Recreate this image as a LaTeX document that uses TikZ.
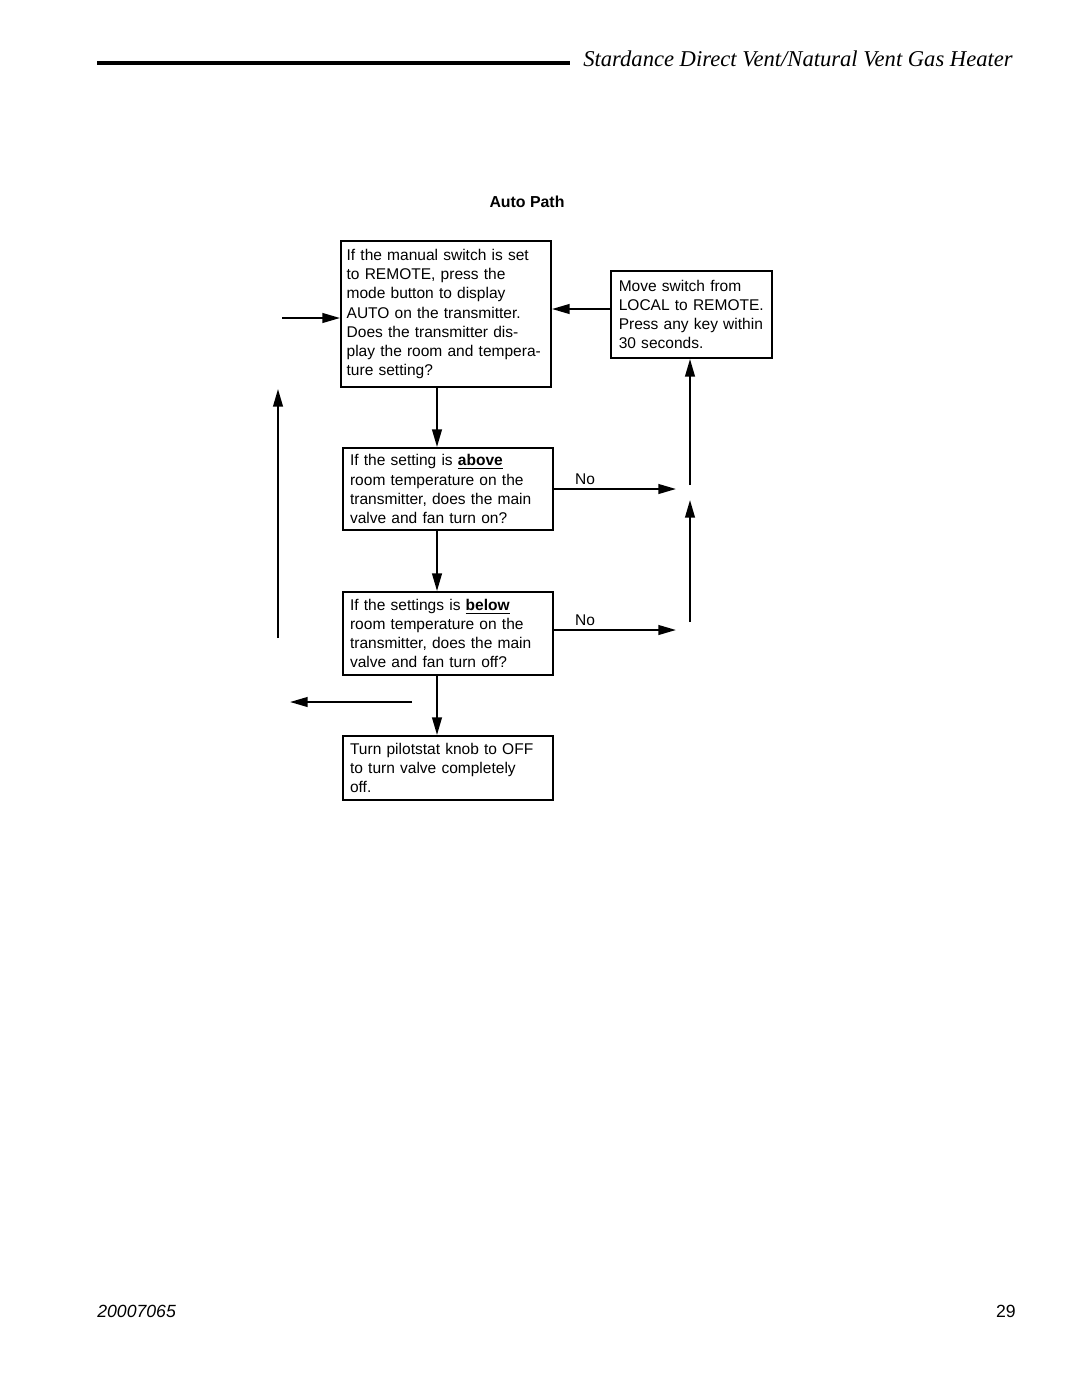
\documentclass[tikz,border=0pt]{standalone}
\usepackage{fontspec}
\setmainfont{Liberation Sans}
\newfontfamily\headfont{Liberation Serif}
\usetikzlibrary{arrows.meta}

\begin{document}
\begin{tikzpicture}[x=0.5667pt,y=-0.5667pt,
	flowbox/.style={draw,line width=1.1pt,align=left,inner xsep=3.2pt,inner ysep=2pt,
		font=\fontsize{8.8pt}{10.8pt}\selectfont},
	arr/.style={line width=1.1pt,-{Triangle[length=10pt,width=5.5pt]}},
	lbl/.style={font=\fontsize{8.8pt}{10.8pt}\selectfont}]
	\useasboundingbox (0,0) rectangle (1080,1397);

	% header and footer
	\draw[line width=2.3pt] (97,63) -- (570,63);
	\node[anchor=base east,inner sep=0pt,font=\headfont\itshape\fontsize{12.8pt}{14pt}\selectfont] (title) at (1013,66) {Stardance Direct Vent/Natural Vent Gas Heater};
	\node[anchor=base west,inner sep=0pt,font=\itshape\fontsize{10pt}{12pt}\selectfont] (partno) at (97,1317) {20007065};
	\node[anchor=base east,inner sep=0pt,font=\fontsize{10pt}{12pt}\selectfont] (page) at (1016,1317) {29};

	\node[lbl,font=\bfseries\fontsize{9pt}{10.8pt}\selectfont] (heading) at (527,202) {Auto Path};

	% boxes
	\node[flowbox,text width=112.6pt,minimum height=82.7pt] (remote) at (446,314) {If the manual switch is set\\to REMOTE, press the\\mode button to display\\AUTO on the transmitter.\\Does the transmitter dis-\\play the room and tempera-\\ture setting?};
	\node[flowbox,inner xsep=4.4pt,text width=82.4pt,minimum height=49.3pt] (local) at (691.5,314.5) {Move switch from\\LOCAL to REMOTE.\\Press any key within\\30 seconds.};
	\node[flowbox,inner xsep=4pt,text width=111pt,minimum height=46.5pt] (above) at (448,489) {If the setting is \underline{\textbf{above}}\\room temperature on the\\transmitter, does the main\\valve and fan turn on?};
	\node[flowbox,inner xsep=4pt,text width=111pt,minimum height=47pt] (below) at (448,633.5) {If the settings is \underline{\textbf{below}}\\room temperature on the\\transmitter, does the main\\valve and fan turn off?};
	\node[flowbox,inner xsep=4pt,text width=111pt,minimum height=36.3pt] (off) at (448,768) {Turn pilotstat knob to OFF\\to turn valve completely\\off.};

	% free ends
	\coordinate (spine) at (437,0);
	\coordinate (inR) at (282,318);
	\coordinate (back) at (611,309);
	\coordinate (noA) at (676,489);
	\coordinate (noB) at (676,630);
	\coordinate (upA) at (690,622);
	\coordinate (upAtip) at (690,500);
	\coordinate (upB) at (690,485);
	\coordinate (loopbot) at (278,638);
	\coordinate (looptop) at (278,389);
	\coordinate (outL) at (412,702);
	\coordinate (outLtip) at (290,702);

	% connectors
	\draw[arr] (remote.south -| spine) -- (above.north -| spine);
	\draw[arr] (above.south -| spine) -- (below.north -| spine);
	\draw[arr] (below.south -| spine) -- (off.north -| spine);
	\draw[arr] (inR) -- (remote.west |- inR);
	\draw[arr] (local.west |- back) -- (remote.east |- back);
	\draw[arr] (above.east |- noA) -- (noA);
	\draw[arr] (below.east |- noB) -- (noB);
	\draw[arr] (upA) -- (upAtip);
	\draw[arr] (upB) -- (local.south -| upB);
	\draw[arr] (loopbot) -- (looptop);
	\draw[arr] (outL) -- (outLtip);

	\node[lbl] (noAl) at (585,479) {No};
	\node[lbl] (noBl) at (585,620) {No};
\end{tikzpicture}
\end{document}
